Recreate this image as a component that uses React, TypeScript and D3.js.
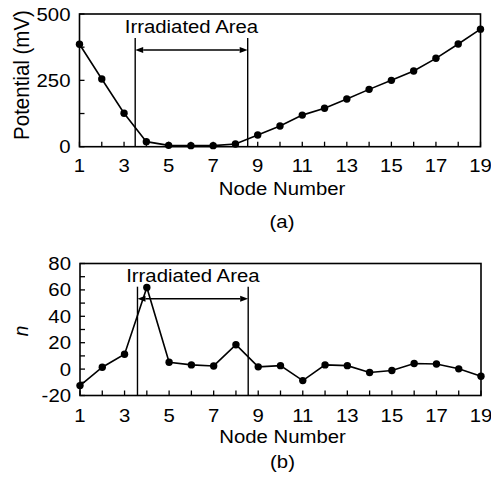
import React from "react";
import * as d3 from "d3";

const nodes = d3.range(1, 20);
const potential = [386, 255, 126, 19, 5, 4, 4, 10, 44, 78, 119, 145, 180, 216, 250, 285, 333, 387, 443];
const nValues = [-12.5, 1.4, 11.2, 61.8, 5.2, 3.2, 2.4, 18.5, 1.7, 2.6, -8.7, 3.2, 2.6, -2.6, -1.1, 4.2, 3.9, 0.2, -5.4];
const xTickLabels = [1, 3, 5, 7, 9, 11, 13, 15, 17, 19];
const topYTicks = [0, 125, 250, 375, 500];
const topYLabels = [0, 250, 500];
const botYTicks = d3.range(-20, 81, 10);
const botYLabels = [-20, 0, 20, 40, 60, 80];
const topIrradiated = [3.5, 8.55];
const botIrradiated = [3.58, 8.55];

const FONT = "'Liberation Sans', Arial, Helvetica, sans-serif";
const FS = 18.5;
const SX = 1.1;

function T(props: { x: number; y: number; anchor?: string; children: React.ReactNode }) {
  return (
    <text
      transform={`translate(${props.x},${props.y}) scale(${SX},1)`}
      textAnchor={props.anchor || "middle"}
      fontFamily={FONT}
      fontSize={FS}
      fill="#000"
    >
      {props.children}
    </text>
  );
}

type PanelProps = {
  values: number[];
  yDomain: [number, number];
  yRange: [number, number];
  xRange: [number, number];
  yTicks: number[];
  yLabels: number[];
  irr: number[];
  irrTop: number;
  arrowY: number;
  labelBaseline: number;
  yTitle: React.ReactNode;
  caption: string;
  captionBaseline: number;
  titleBaseline: number;
  tickLabelOffset: number;
};

function Panel(p: PanelProps) {
  const x = d3.scaleLinear().domain([1, 19]).range(p.xRange);
  const y = d3.scaleLinear().domain(p.yDomain).range(p.yRange);
  const line = d3.line<number>().x((_, i) => x(nodes[i])).y((v) => y(v));
  const [x0, x1] = p.xRange;
  const yTop = p.yRange[1];
  const yBot = p.yRange[0];
  const ax = x(p.irr[0]);
  const bx = x(p.irr[1]);
  const ah = 8;
  const aw = 3;
  const cx = (x0 + x1) / 2;
  return (
    <g>
      <rect x={x0} y={yTop} width={x1 - x0} height={yBot - yTop} fill="none" stroke="#000" strokeWidth={1.6} />
      {nodes.map((n) => (
        <line key={"xt" + n} x1={x(n)} x2={x(n)} y1={yBot} y2={yBot - 5} stroke="#000" strokeWidth={1.3} />
      ))}
      {p.yTicks.map((t) => (
        <line key={"yt" + t} x1={x0} x2={x0 + 5} y1={y(t)} y2={y(t)} stroke="#000" strokeWidth={1.3} />
      ))}
      {xTickLabels.map((t) => (
        <T key={"xl" + t} x={x(t)} y={yBot + p.tickLabelOffset}>
          {t}
        </T>
      ))}
      {p.yLabels.map((t) => (
        <T key={"yl" + t} x={x0 - 9} y={y(t) + 6.5} anchor="end">
          {t}
        </T>
      ))}
      <T x={cx + 2} y={p.titleBaseline}>Node Number</T>
      <T x={cx + 2} y={p.captionBaseline}>{p.caption}</T>
      {p.yTitle}
      <line x1={ax} x2={ax} y1={p.irrTop} y2={yBot} stroke="#000" strokeWidth={1.4} />
      <line x1={bx} x2={bx} y1={p.irrTop} y2={yBot} stroke="#000" strokeWidth={1.4} />
      <line x1={ax + ah} x2={bx - ah} y1={p.arrowY} y2={p.arrowY} stroke="#000" strokeWidth={1.6} />
      <path d={`M${ax},${p.arrowY}L${ax + ah},${p.arrowY - aw}L${ax + ah},${p.arrowY + aw}Z`} fill="#000" />
      <path d={`M${bx},${p.arrowY}L${bx - ah},${p.arrowY - aw}L${bx - ah},${p.arrowY + aw}Z`} fill="#000" />
      <T x={(ax + bx) / 2} y={p.labelBaseline}>Irradiated Area</T>
      <path d={line(p.values) || ""} fill="none" stroke="#000" strokeWidth={1.6} />
      {p.values.map((v, i) => (
        <circle key={"pt" + i} cx={x(nodes[i])} cy={y(v)} r={3.7} fill="#000" />
      ))}
    </g>
  );
}

export default function App() {
  return (
    <svg width={491} height={477} style={{ position: "absolute", left: 0, top: 0, background: "#fff" }}>
      <rect width={491} height={477} fill="#fff" />
      <Panel
        values={potential}
        yDomain={[0, 500]}
        yRange={[146.7, 14]}
        xRange={[79.5, 480.5]}
        yTicks={topYTicks}
        yLabels={topYLabels}
        irr={topIrradiated}
        irrTop={38}
        arrowY={50}
        labelBaseline={33.3}
        tickLabelOffset={25}
        titleBaseline={195}
        caption="(a)"
        captionBaseline={227.5}
        yTitle={
          <text transform="translate(28.5,75) rotate(-90) scale(1,1.1)" textAnchor="middle" fontFamily={FONT} fontSize={20.5}>
            Potential (mV)
          </text>
        }
      />
      <Panel
        values={nValues}
        yDomain={[-20, 80]}
        yRange={[395.5, 263.5]}
        xRange={[80, 481]}
        yTicks={botYTicks}
        yLabels={botYLabels}
        irr={botIrradiated}
        irrTop={286.7}
        arrowY={298.7}
        labelBaseline={281.7}
        tickLabelOffset={26}
        titleBaseline={443}
        caption="(b)"
        captionBaseline={467.5}
        yTitle={
          <text transform="translate(28,331) rotate(-90) scale(1,1.1)" textAnchor="middle" fontFamily={FONT} fontSize={19} fontStyle="italic">
            n
          </text>
        }
      />
    </svg>
  );
}
